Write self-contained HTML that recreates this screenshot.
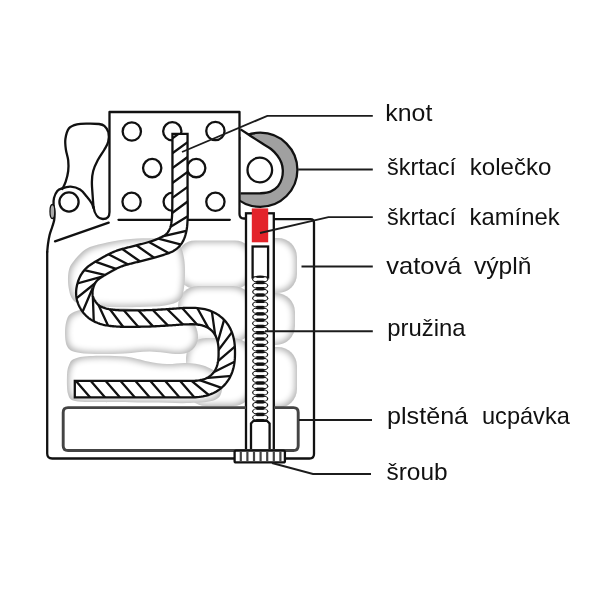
<!DOCTYPE html>
<html><head><meta charset="utf-8"><style>
html,body{margin:0;padding:0;background:#fff;}
body{width:600px;height:600px;position:relative;overflow:hidden;}
svg{position:absolute;left:0;top:0;filter:blur(0.35px);}
.l{position:absolute;font-family:"Liberation Sans",sans-serif;font-size:24px;line-height:1.149;color:#111;white-space:nowrap;}
</style></head><body>
<svg width="600" height="600" viewBox="0 0 600 600">
<defs>
<filter id="b1" x="-20%" y="-20%" width="140%" height="140%"><feGaussianBlur stdDeviation="0.7"/></filter>
<filter id="b2" x="-20%" y="-20%" width="140%" height="140%"><feGaussianBlur stdDeviation="2.6"/></filter>
<filter id="pillow" x="-10%" y="-10%" width="120%" height="120%" color-interpolation-filters="sRGB">
 <feMorphology in="SourceAlpha" operator="erode" radius="2.2" result="er"/>
 <feGaussianBlur in="er" stdDeviation="3.3" result="erb"/>
 <feFlood flood-color="#b3b3b3" result="gray"/>
 <feComposite in="gray" in2="SourceAlpha" operator="in" result="gs"/>
 <feFlood flood-color="#ffffff" result="white"/>
 <feComposite in="white" in2="erb" operator="in" result="wi"/>
 <feMerge><feMergeNode in="gs"/><feMergeNode in="wi"/></feMerge>
</filter>
<clipPath id="wclip"><path d="M172.45,133.80 L172.45,136.08 L172.45,138.37 L172.45,140.65 L172.45,142.93 L172.45,145.21 L172.45,147.50 L172.45,149.78 L172.45,152.06 L172.45,154.34 L172.45,156.63 L172.45,158.91 L172.45,161.19 L172.45,163.48 L172.45,165.76 L172.45,168.04 L172.45,170.32 L172.45,172.61 L172.45,174.89 L172.45,177.17 L172.45,179.46 L172.45,181.74 L172.45,184.02 L172.45,186.30 L172.45,188.59 L172.43,190.87 L172.41,193.15 L172.38,195.43 L172.36,197.72 L172.34,200.00 L172.33,200.51 L172.33,201.13 L172.33,201.86 L172.32,202.67 L172.32,203.54 L172.31,204.46 L172.31,205.41 L172.30,206.37 L172.29,207.32 L172.27,208.23 L172.26,209.09 L172.24,209.90 L172.22,210.68 L172.20,211.46 L172.18,212.22 L172.17,212.96 L172.15,213.67 L172.13,214.37 L172.10,215.06 L172.07,215.73 L172.03,216.38 L171.99,217.03 L171.94,217.67 L171.88,218.33 L171.80,219.06 L171.73,219.80 L171.66,220.52 L171.58,221.22 L171.50,221.90 L171.41,222.56 L171.32,223.19 L171.22,223.80 L171.11,224.37 L170.99,224.91 L170.87,225.41 L170.74,225.91 L170.58,226.44 L170.40,227.00 L170.21,227.55 L170.01,228.09 L169.80,228.62 L169.59,229.12 L169.37,229.61 L169.15,230.08 L168.92,230.52 L168.70,230.93 L168.47,231.30 L168.24,231.66 L168.00,232.02 L167.74,232.37 L167.49,232.69 L167.24,232.99 L166.98,233.29 L166.71,233.57 L166.43,233.85 L166.13,234.12 L165.81,234.40 L165.47,234.68 L165.10,234.97 L164.72,235.25 L164.34,235.51 L163.93,235.77 L163.46,236.04 L162.93,236.33 L162.37,236.63 L161.76,236.94 L161.13,237.25 L160.47,237.56 L159.78,237.87 L159.08,238.18 L158.37,238.49 L157.68,238.80 L157.04,239.08 L156.41,239.35 L155.79,239.60 L155.16,239.85 L154.52,240.09 L153.87,240.33 L153.20,240.57 L152.52,240.80 L151.81,241.04 L151.07,241.28 L150.31,241.53 L149.53,241.78 L148.75,242.02 L147.95,242.27 L147.12,242.51 L146.26,242.75 L145.37,243.00 L144.47,243.25 L143.56,243.49 L142.64,243.74 L141.71,243.99 L140.77,244.23 L139.84,244.48 L138.92,244.72 L138.03,244.95 L137.13,245.18 L136.22,245.41 L135.30,245.64 L134.37,245.86 L133.43,246.09 L132.50,246.32 L131.56,246.55 L130.64,246.78 L129.72,247.01 L128.81,247.24 L127.94,247.46 L127.12,247.68 L126.33,247.88 L125.54,248.08 L124.76,248.28 L123.98,248.49 L123.20,248.69 L122.41,248.91 L121.61,249.13 L120.81,249.36 L120.00,249.61 L119.18,249.86 L118.36,250.14 L117.57,250.41 L116.80,250.69 L116.04,250.97 L115.28,251.26 L114.54,251.55 L113.80,251.86 L113.07,252.16 L112.34,252.48 L111.61,252.80 L110.89,253.13 L110.17,253.47 L109.43,253.82 L108.66,254.19 L107.90,254.59 L107.14,254.98 L106.40,255.38 L105.67,255.78 L104.95,256.18 L104.25,256.58 L103.56,256.98 L102.88,257.36 L102.22,257.74 L101.58,258.11 L100.95,258.47 L100.33,258.82 L99.70,259.17 L99.06,259.53 L98.41,259.89 L97.75,260.27 L97.08,260.65 L96.41,261.04 L95.72,261.44 L95.03,261.85 L94.33,262.28 L93.63,262.73 L92.97,263.16 L92.39,263.55 L91.83,263.92 L91.23,264.31 L90.61,264.73 L89.95,265.18 L89.27,265.66 L88.57,266.18 L87.84,266.74 L87.10,267.36 L86.35,268.03 L85.61,268.76 L84.90,269.52 L84.27,270.25 L83.68,270.97 L83.10,271.71 L82.54,272.48 L81.99,273.28 L81.47,274.10 L80.95,274.95 L80.46,275.82 L80.00,276.72 L79.55,277.64 L79.13,278.59 L78.75,279.55 L78.40,280.51 L78.07,281.47 L77.75,282.47 L77.46,283.49 L77.18,284.53 L76.93,285.60 L76.71,286.69 L76.51,287.81 L76.34,288.94 L76.22,290.09 L76.13,291.26 L76.10,292.43 L76.11,293.53 L76.16,294.61 L76.24,295.70 L76.36,296.79 L76.53,297.88 L76.73,298.97 L76.97,300.06 L77.26,301.15 L77.59,302.24 L77.97,303.32 L78.39,304.39 L78.86,305.45 L79.36,306.48 L79.90,307.50 L80.48,308.51 L81.09,309.51 L81.75,310.51 L82.44,311.49 L83.17,312.46 L83.94,313.42 L84.75,314.35 L85.60,315.26 L86.49,316.15 L87.43,317.00 L88.39,317.79 L89.37,318.54 L90.37,319.23 L91.38,319.89 L92.41,320.50 L93.46,321.07 L94.51,321.60 L95.58,322.10 L96.65,322.56 L97.73,323.00 L98.81,323.40 L99.93,323.79 L101.10,324.16 L102.31,324.49 L103.50,324.79 L104.70,325.05 L105.90,325.28 L107.09,325.49 L108.29,325.68 L109.48,325.84 L110.67,325.99 L111.85,326.12 L113.04,326.25 L114.25,326.37 L115.51,326.47 L116.79,326.56 L118.06,326.63 L119.33,326.69 L120.60,326.73 L121.88,326.75 L123.17,326.77 L124.48,326.78 L125.81,326.79 L127.17,326.79 L128.55,326.80 L129.99,326.80 L131.49,326.80 L133.07,326.80 L134.69,326.79 L136.36,326.78 L138.07,326.76 L139.80,326.74 L141.55,326.72 L143.31,326.68 L145.07,326.65 L146.83,326.60 L148.57,326.55 L150.29,326.49 L152.03,326.43 L153.80,326.35 L155.59,326.27 L157.40,326.17 L159.20,326.08 L160.98,325.97 L162.73,325.87 L164.43,325.77 L166.07,325.66 L167.65,325.56 L169.13,325.47 L170.52,325.38 L171.84,325.30 L173.10,325.21 L174.27,325.12 L175.38,325.04 L176.43,324.95 L177.41,324.87 L178.34,324.79 L179.23,324.72 L180.08,324.65 L180.90,324.59 L181.69,324.53 L182.46,324.49 L183.25,324.45 L184.03,324.41 L184.82,324.38 L185.60,324.36 L186.35,324.33 L187.09,324.32 L187.78,324.30 L188.44,324.29 L189.04,324.28 L189.60,324.27 L190.10,324.26 L190.26,324.25 L192.72,324.27 L194.46,324.33 L196.01,324.44 L197.42,324.57 L198.73,324.75 L199.96,324.96 L201.13,325.20 L202.24,325.48 L203.29,325.78 L204.29,326.12 L205.25,326.49 L206.16,326.88 L207.03,327.31 L207.86,327.76 L208.66,328.24 L209.41,328.74 L210.14,329.28 L210.83,329.84 L211.49,330.43 L212.12,331.04 L212.73,331.69 L213.30,332.37 L213.85,333.08 L214.37,333.82 L214.86,334.60 L215.32,335.41 L215.76,336.27 L216.17,337.16 L216.55,338.09 L216.90,339.07 L217.22,340.10 L217.51,341.19 L217.77,342.32 L218.00,343.53 L218.19,344.80 L218.35,346.16 L218.47,347.64 L218.55,349.27 L218.59,351.21 L218.59,353.99 L218.55,355.93 L218.47,357.56 L218.35,359.04 L218.19,360.40 L218.00,361.67 L217.77,362.88 L217.51,364.01 L217.22,365.10 L216.90,366.13 L216.55,367.11 L216.17,368.04 L215.76,368.93 L215.32,369.79 L214.86,370.60 L214.37,371.38 L213.85,372.12 L213.30,372.83 L212.73,373.51 L212.12,374.16 L211.49,374.77 L210.83,375.36 L210.14,375.92 L209.41,376.46 L208.66,376.96 L207.86,377.44 L207.03,377.89 L206.16,378.32 L205.25,378.71 L204.29,379.08 L203.29,379.42 L202.24,379.72 L201.13,380.00 L199.96,380.24 L198.73,380.45 L197.42,380.63 L196.01,380.76 L194.46,380.87 L192.72,380.93 L190.26,380.95 L187.94,380.95 L185.59,380.95 L183.23,380.95 L180.87,380.95 L178.51,380.95 L176.16,380.95 L173.80,380.95 L171.44,380.95 L169.09,380.95 L166.73,380.95 L164.37,380.95 L162.01,380.95 L159.66,380.95 L157.30,380.95 L154.94,380.95 L152.59,380.95 L150.23,380.95 L147.87,380.95 L145.51,380.95 L143.16,380.95 L140.80,380.95 L138.44,380.95 L136.09,380.95 L133.73,380.95 L131.37,380.95 L129.01,380.95 L126.66,380.95 L124.30,380.95 L121.94,380.95 L119.59,380.95 L117.23,380.95 L114.87,380.95 L112.51,380.95 L110.16,380.95 L107.80,380.95 L105.44,380.95 L103.09,380.95 L100.73,380.95 L98.37,380.95 L96.01,380.95 L93.66,380.95 L91.30,380.95 L88.94,380.95 L86.59,380.95 L84.23,380.95 L81.87,380.95 L79.51,380.95 L77.16,380.95 L74.80,380.95 L74.80,397.35 L77.16,397.35 L79.51,397.35 L81.87,397.35 L84.23,397.35 L86.59,397.35 L88.94,397.35 L91.30,397.35 L93.66,397.35 L96.01,397.35 L98.37,397.35 L100.73,397.35 L103.09,397.35 L105.44,397.35 L107.80,397.35 L110.16,397.35 L112.51,397.35 L114.87,397.35 L117.23,397.35 L119.59,397.35 L121.94,397.35 L124.30,397.35 L126.66,397.35 L129.01,397.35 L131.37,397.35 L133.73,397.35 L136.09,397.35 L138.44,397.35 L140.80,397.35 L143.16,397.35 L145.51,397.35 L147.87,397.35 L150.23,397.35 L152.59,397.35 L154.94,397.35 L157.30,397.35 L159.66,397.35 L162.01,397.35 L164.37,397.35 L166.73,397.35 L169.09,397.35 L171.44,397.35 L173.80,397.35 L176.16,397.35 L178.51,397.35 L180.87,397.35 L183.23,397.35 L185.59,397.35 L187.94,397.35 L190.34,397.35 L193.06,397.32 L195.29,397.24 L197.34,397.11 L199.29,396.92 L201.18,396.67 L203.00,396.36 L204.78,395.99 L206.51,395.56 L208.20,395.06 L209.84,394.51 L211.45,393.89 L213.01,393.22 L214.53,392.48 L216.01,391.68 L217.44,390.81 L218.82,389.89 L220.16,388.91 L221.45,387.86 L222.68,386.76 L223.86,385.61 L224.99,384.40 L226.06,383.14 L227.07,381.82 L228.02,380.46 L228.91,379.05 L229.74,377.59 L230.51,376.09 L231.22,374.55 L231.87,372.97 L232.45,371.34 L232.97,369.67 L233.43,367.96 L233.83,366.21 L234.17,364.41 L234.45,362.55 L234.67,360.63 L234.83,358.63 L234.94,356.51 L234.99,354.15 L234.99,351.05 L234.94,348.69 L234.83,346.57 L234.67,344.57 L234.45,342.65 L234.17,340.79 L233.83,338.99 L233.43,337.24 L232.97,335.53 L232.45,333.86 L231.87,332.23 L231.22,330.65 L230.51,329.11 L229.74,327.61 L228.91,326.15 L228.02,324.74 L227.07,323.38 L226.06,322.06 L224.99,320.80 L223.86,319.59 L222.68,318.44 L221.45,317.34 L220.16,316.29 L218.82,315.31 L217.44,314.39 L216.01,313.52 L214.53,312.72 L213.01,311.98 L211.45,311.31 L209.84,310.69 L208.20,310.14 L206.51,309.64 L204.78,309.21 L203.00,308.84 L201.18,308.53 L199.29,308.28 L197.34,308.09 L195.29,307.96 L193.06,307.88 L190.34,307.85 L189.72,307.86 L189.28,307.87 L188.75,307.88 L188.13,307.89 L187.45,307.91 L186.71,307.92 L185.93,307.94 L185.10,307.96 L184.24,307.99 L183.35,308.02 L182.45,308.07 L181.54,308.11 L180.62,308.17 L179.72,308.23 L178.81,308.30 L177.91,308.37 L176.99,308.45 L176.05,308.53 L175.08,308.61 L174.08,308.69 L173.02,308.77 L171.92,308.85 L170.74,308.93 L169.48,309.02 L168.10,309.10 L166.61,309.20 L165.05,309.30 L163.42,309.40 L161.74,309.50 L160.02,309.60 L158.28,309.70 L156.53,309.80 L154.78,309.89 L153.05,309.97 L151.36,310.04 L149.71,310.11 L148.07,310.16 L146.39,310.21 L144.69,310.25 L142.98,310.29 L141.27,310.32 L139.57,310.34 L137.89,310.37 L136.23,310.38 L134.60,310.39 L133.02,310.40 L131.49,310.40 L130.01,310.40 L128.58,310.40 L127.20,310.39 L125.87,310.39 L124.59,310.39 L123.36,310.37 L122.18,310.36 L121.04,310.33 L119.93,310.30 L118.86,310.25 L117.81,310.19 L116.78,310.12 L115.75,310.03 L114.68,309.93 L113.63,309.82 L112.60,309.70 L111.61,309.58 L110.66,309.45 L109.74,309.31 L108.87,309.16 L108.03,308.99 L107.23,308.82 L106.48,308.63 L105.77,308.43 L105.07,308.21 L104.35,307.96 L103.64,307.70 L102.96,307.43 L102.30,307.14 L101.68,306.85 L101.09,306.56 L100.53,306.25 L100.00,305.93 L99.50,305.61 L99.03,305.28 L98.58,304.94 L98.17,304.60 L97.77,304.24 L97.36,303.84 L96.94,303.39 L96.52,302.90 L96.11,302.39 L95.70,301.84 L95.31,301.29 L94.94,300.72 L94.59,300.16 L94.27,299.60 L93.99,299.06 L93.74,298.55 L93.53,298.08 L93.35,297.61 L93.18,297.13 L93.03,296.66 L92.91,296.17 L92.80,295.68 L92.70,295.18 L92.63,294.67 L92.57,294.15 L92.53,293.63 L92.51,293.09 L92.50,292.57 L92.51,292.09 L92.55,291.58 L92.61,291.02 L92.70,290.42 L92.81,289.79 L92.94,289.15 L93.10,288.50 L93.27,287.85 L93.45,287.21 L93.65,286.58 L93.85,285.99 L94.05,285.45 L94.25,284.96 L94.45,284.51 L94.66,284.06 L94.89,283.62 L95.13,283.19 L95.38,282.77 L95.65,282.36 L95.93,281.96 L96.21,281.57 L96.51,281.18 L96.82,280.81 L97.10,280.48 L97.34,280.22 L97.57,280.00 L97.83,279.76 L98.14,279.51 L98.48,279.24 L98.87,278.96 L99.30,278.65 L99.77,278.33 L100.29,277.99 L100.84,277.62 L101.44,277.23 L102.03,276.84 L102.54,276.50 L103.04,276.18 L103.56,275.86 L104.09,275.54 L104.65,275.21 L105.23,274.88 L105.83,274.54 L106.44,274.20 L107.07,273.84 L107.72,273.48 L108.38,273.11 L109.05,272.73 L109.72,272.35 L110.39,271.96 L111.05,271.58 L111.70,271.21 L112.35,270.84 L112.99,270.48 L113.62,270.13 L114.23,269.79 L114.84,269.46 L115.43,269.15 L116.00,268.86 L116.57,268.58 L117.16,268.30 L117.75,268.02 L118.34,267.76 L118.92,267.50 L119.50,267.25 L120.08,267.01 L120.65,266.77 L121.24,266.54 L121.82,266.32 L122.42,266.09 L123.03,265.88 L123.64,265.66 L124.24,265.46 L124.84,265.27 L125.46,265.09 L126.09,264.90 L126.75,264.72 L127.43,264.54 L128.13,264.35 L128.87,264.16 L129.63,263.97 L130.42,263.76 L131.23,263.55 L132.06,263.34 L132.88,263.12 L133.72,262.91 L134.58,262.70 L135.47,262.48 L136.39,262.25 L137.32,262.03 L138.27,261.80 L139.22,261.56 L140.19,261.32 L141.15,261.08 L142.12,260.83 L143.08,260.59 L144.01,260.34 L144.94,260.10 L145.89,259.85 L146.85,259.60 L147.81,259.35 L148.78,259.10 L149.75,258.84 L150.72,258.58 L151.68,258.32 L152.64,258.06 L153.58,257.80 L154.50,257.54 L155.38,257.29 L156.23,257.05 L157.07,256.81 L157.90,256.57 L158.73,256.34 L159.57,256.10 L160.40,255.85 L161.24,255.60 L162.08,255.35 L162.93,255.08 L163.79,254.81 L164.64,254.53 L165.46,254.26 L166.28,253.98 L167.13,253.69 L168.00,253.38 L168.89,253.05 L169.80,252.69 L170.71,252.31 L171.63,251.89 L172.56,251.43 L173.49,250.92 L174.42,250.36 L175.32,249.77 L176.13,249.17 L176.90,248.57 L177.64,247.94 L178.36,247.28 L179.04,246.59 L179.70,245.88 L180.33,245.14 L180.93,244.37 L181.49,243.59 L182.02,242.79 L182.51,241.97 L182.99,241.13 L183.45,240.23 L183.87,239.32 L184.26,238.40 L184.61,237.48 L184.93,236.57 L185.23,235.65 L185.50,234.74 L185.74,233.83 L185.97,232.92 L186.17,232.03 L186.37,231.14 L186.55,230.22 L186.73,229.26 L186.88,228.28 L187.01,227.33 L187.12,226.40 L187.20,225.48 L187.28,224.59 L187.34,223.72 L187.40,222.87 L187.45,222.04 L187.50,221.24 L187.54,220.46 L187.59,219.67 L187.63,218.84 L187.67,218.00 L187.71,217.17 L187.73,216.35 L187.74,215.55 L187.75,214.75 L187.76,213.97 L187.76,213.19 L187.76,212.42 L187.76,211.65 L187.76,210.89 L187.76,210.10 L187.77,209.25 L187.76,208.32 L187.76,207.36 L187.75,206.37 L187.74,205.38 L187.73,204.41 L187.71,203.48 L187.70,202.59 L187.69,201.78 L187.68,201.06 L187.67,200.46 L187.66,200.00 L187.64,197.72 L187.62,195.43 L187.59,193.15 L187.57,190.87 L187.55,188.59 L187.55,186.30 L187.55,184.02 L187.55,181.74 L187.55,179.46 L187.55,177.17 L187.55,174.89 L187.55,172.61 L187.55,170.32 L187.55,168.04 L187.55,165.76 L187.55,163.48 L187.55,161.19 L187.55,158.91 L187.55,156.63 L187.55,154.34 L187.55,152.06 L187.55,149.78 L187.55,147.50 L187.55,145.21 L187.55,142.93 L187.55,140.65 L187.55,138.37 L187.55,136.08 L187.55,133.80 Z"/></clipPath>

</defs>
<rect width="600" height="600" fill="#fff"/>
<g fill="#000" filter="url(#b1)"><path d="M195,240.5 H235 A18,18 0 0 1 253,258.5 V270.5 A18,18 0 0 1 235,288.5 H195 A18,18 0 0 1 177,270.5 V258.5 A18,18 0 0 1 195,240.5 Z" filter="url(#pillow)"/><path d="M198,286 H233 A20,20 0 0 1 253,306 V322 A20,20 0 0 1 233,342 H198 A20,20 0 0 1 178,322 V306 A20,20 0 0 1 198,286 Z" filter="url(#pillow)"/><path d="M206,338 H233 A20,20 0 0 1 253,358 V386 A20,20 0 0 1 233,406 H206 A20,20 0 0 1 186,386 V358 A20,20 0 0 1 206,338 Z" filter="url(#pillow)"/><path d="M274,238 H278 A19,19 0 0 1 297,257 V274 A19,19 0 0 1 278,293 H274 A19,19 0 0 1 255,274 V257 A19,19 0 0 1 274,238 Z" filter="url(#pillow)"/><path d="M274,293 H276 A19,19 0 0 1 295,312 V326 A19,19 0 0 1 276,345 H274 A19,19 0 0 1 255,326 V312 A19,19 0 0 1 274,293 Z" filter="url(#pillow)"/><path d="M274,347 H278 A19,19 0 0 1 297,366 V389 A19,19 0 0 1 278,408 H274 A19,19 0 0 1 255,389 V366 A19,19 0 0 1 274,347 Z" filter="url(#pillow)"/><path d="M73.00,262.00 C75.92,258.17 81.00,252.08 86.00,249.00 C91.00,245.92 96.50,245.08 103.00,243.50 C109.50,241.92 117.17,240.38 125.00,239.50 C132.83,238.62 142.50,238.12 150.00,238.20 C157.50,238.28 165.00,238.70 170.00,240.00 C175.00,241.30 177.67,243.00 180.00,246.00 C182.33,249.00 183.17,253.67 184.00,258.00 C184.83,262.33 185.00,267.00 185.00,272.00 C185.00,277.00 184.83,283.33 184.00,288.00 C183.17,292.67 183.17,297.08 180.00,300.00 C176.83,302.92 171.67,304.33 165.00,305.50 C158.33,306.67 149.17,306.75 140.00,307.00 C130.83,307.25 119.17,307.33 110.00,307.00 C100.83,306.67 91.17,306.17 85.00,305.00 C78.83,303.83 75.75,303.00 73.00,300.00 C70.25,297.00 69.25,291.67 68.50,287.00 C67.75,282.33 67.75,276.17 68.50,272.00 C69.25,267.83 70.08,265.83 73.00,262.00Z" filter="url(#pillow)"/><path d="M72.00,313.00 C75.00,311.33 78.67,309.83 85.00,309.00 C91.33,308.17 100.83,308.00 110.00,308.00 C119.17,308.00 130.00,308.50 140.00,309.00 C150.00,309.50 162.50,309.83 170.00,311.00 C177.50,312.17 180.83,313.67 185.00,316.00 C189.17,318.33 192.83,321.33 195.00,325.00 C197.17,328.67 198.33,334.00 198.00,338.00 C197.67,342.00 196.00,346.33 193.00,349.00 C190.00,351.67 187.17,353.58 180.00,354.00 C172.83,354.42 159.17,351.58 150.00,351.50 C140.83,351.42 134.17,353.08 125.00,353.50 C115.83,353.92 103.33,354.25 95.00,354.00 C86.67,353.75 79.67,353.33 75.00,352.00 C70.33,350.67 68.67,349.33 67.00,346.00 C65.33,342.67 65.00,336.50 65.00,332.00 C65.00,327.50 65.83,322.17 67.00,319.00 C68.17,315.83 69.00,314.67 72.00,313.00Z" filter="url(#pillow)"/><path d="M74.00,359.00 C77.50,357.50 81.50,356.42 90.00,356.00 C98.50,355.58 115.33,355.58 125.00,356.50 C134.67,357.42 141.00,360.25 148.00,361.50 C155.00,362.75 160.67,363.75 167.00,364.00 C173.33,364.25 179.67,362.67 186.00,363.00 C192.33,363.33 199.33,363.83 205.00,366.00 C210.67,368.17 217.17,372.00 220.00,376.00 C222.83,380.00 222.83,386.00 222.00,390.00 C221.17,394.00 220.33,397.83 215.00,400.00 C209.67,402.17 200.83,402.58 190.00,403.00 C179.17,403.42 165.00,402.67 150.00,402.50 C135.00,402.33 112.50,402.25 100.00,402.00 C87.50,401.75 80.33,402.33 75.00,401.00 C69.67,399.67 69.33,398.33 68.00,394.00 C66.67,389.67 66.83,379.83 67.00,375.00 C67.17,370.17 67.83,367.67 69.00,365.00 C70.17,362.33 70.50,360.50 74.00,359.00Z" filter="url(#pillow)"/></g>
<g stroke="#111" stroke-width="2.3" stroke-linejoin="round">
<circle cx="260.3" cy="169.8" r="37.1" fill="#a0a0a0"/>
<path d="M240.60,129.40 C242.33,130.53 247.43,133.88 251.00,136.20 C254.57,138.52 258.67,141.17 262.00,143.30 C265.33,145.43 268.45,146.97 271.00,149.00 C273.55,151.03 275.58,153.25 277.30,155.50 C279.02,157.75 280.38,160.08 281.30,162.50 C282.22,164.92 282.70,167.37 282.80,170.00 C282.90,172.63 282.70,175.58 281.90,178.30 C281.10,181.02 279.90,184.08 278.00,186.30 C276.10,188.52 273.50,190.43 270.50,191.60 C267.50,192.77 263.42,193.02 260.00,193.30 C256.58,193.58 253.23,193.30 250.00,193.30 C246.77,193.30 242.17,193.30 240.60,193.30" fill="#fff"/>
<circle cx="259.8" cy="170" r="12.3" fill="#fff"/>
</g>
<rect x="109.5" y="112" width="130" height="107" fill="#fff"/>
<g fill="none" stroke="#111" stroke-width="2.3" stroke-linecap="round" stroke-linejoin="round">
<path d="M47.2,252 L47.2,453.5 Q47.2,458.5 52.2,458.5 L309.5,458.5 Q314,458.5 314,454 L314,222.7 Q314,219.2 310.5,219.2 L274,219.2"/>
<path d="M93.50,208.00 C93.17,207.17 92.63,204.92 91.50,203.00 C90.37,201.08 88.62,198.73 86.70,196.50 C84.78,194.27 82.67,191.23 80.00,189.60 C77.33,187.97 73.70,186.92 70.70,186.70 C67.70,186.48 64.23,187.58 62.00,188.30 C59.77,189.02 58.63,189.38 57.30,191.00 C55.97,192.62 54.62,195.67 54.00,198.00 C53.38,200.33 53.52,202.50 53.60,205.00 C53.68,207.50 54.40,210.50 54.50,213.00 C54.60,215.50 54.58,217.67 54.20,220.00 C53.82,222.33 52.97,224.50 52.20,227.00 C51.43,229.50 50.30,232.17 49.60,235.00 C48.90,237.83 48.40,241.17 48.00,244.00 C47.60,246.83 47.33,250.67 47.20,252.00"/>
<path d="M93.50,207.00 C93.35,205.00 92.87,199.22 92.60,195.00 C92.33,190.78 91.80,185.70 91.90,181.70 C92.00,177.70 92.23,174.57 93.20,171.00 C94.17,167.43 95.85,163.85 97.70,160.30 C99.55,156.75 102.55,152.80 104.30,149.70 C106.05,146.60 107.52,144.60 108.20,141.70 C108.88,138.80 109.05,134.93 108.40,132.30 C107.75,129.67 105.87,127.28 104.30,125.90 C102.73,124.52 101.72,124.38 99.00,124.00 C96.28,123.62 91.67,123.55 88.00,123.60 C84.33,123.65 80.17,123.52 77.00,124.30 C73.83,125.08 70.93,125.85 69.00,128.30 C67.07,130.75 65.92,135.43 65.40,139.00 C64.88,142.57 65.43,146.15 65.90,149.70 C66.37,153.25 67.82,156.75 68.20,160.30 C68.58,163.85 68.62,167.43 68.20,171.00 C67.78,174.57 66.68,178.70 65.70,181.70 C64.72,184.70 62.87,187.78 62.30,189.00"/>
<path d="M93.5,207 C94.5,214 98,219 103,219 C107.5,219 109.5,216 109.5,212 L109.5,112 L239.5,112 L239.5,214 Q239.5,218.5 244,218.5 L246,218.5"/>
<line x1="55" y1="241.3" x2="108.7" y2="222.7"/>
<line x1="118.5" y1="219.8" x2="229.8" y2="219.8"/>
<g fill="#fff"><circle cx="131.8" cy="131.5" r="9.15"/><circle cx="172.3" cy="131.3" r="9.15"/><circle cx="215.4" cy="131" r="9.15"/><circle cx="152.2" cy="168.1" r="9.15"/><circle cx="196.2" cy="168.1" r="9.15"/><circle cx="131.6" cy="201.8" r="9.15"/><circle cx="172.7" cy="201.8" r="9.15"/><circle cx="215.4" cy="201.8" r="9.15"/></g>
<circle cx="69" cy="202" r="9.6" fill="#fff"/>
<ellipse cx="52.4" cy="211.5" rx="2.4" ry="7" fill="#aaa" stroke-width="1.3"/>
</g>

<path d="M172.45,133.80 L172.45,136.08 L172.45,138.37 L172.45,140.65 L172.45,142.93 L172.45,145.21 L172.45,147.50 L172.45,149.78 L172.45,152.06 L172.45,154.34 L172.45,156.63 L172.45,158.91 L172.45,161.19 L172.45,163.48 L172.45,165.76 L172.45,168.04 L172.45,170.32 L172.45,172.61 L172.45,174.89 L172.45,177.17 L172.45,179.46 L172.45,181.74 L172.45,184.02 L172.45,186.30 L172.45,188.59 L172.43,190.87 L172.41,193.15 L172.38,195.43 L172.36,197.72 L172.34,200.00 L172.33,200.51 L172.33,201.13 L172.33,201.86 L172.32,202.67 L172.32,203.54 L172.31,204.46 L172.31,205.41 L172.30,206.37 L172.29,207.32 L172.27,208.23 L172.26,209.09 L172.24,209.90 L172.22,210.68 L172.20,211.46 L172.18,212.22 L172.17,212.96 L172.15,213.67 L172.13,214.37 L172.10,215.06 L172.07,215.73 L172.03,216.38 L171.99,217.03 L171.94,217.67 L171.88,218.33 L171.80,219.06 L171.73,219.80 L171.66,220.52 L171.58,221.22 L171.50,221.90 L171.41,222.56 L171.32,223.19 L171.22,223.80 L171.11,224.37 L170.99,224.91 L170.87,225.41 L170.74,225.91 L170.58,226.44 L170.40,227.00 L170.21,227.55 L170.01,228.09 L169.80,228.62 L169.59,229.12 L169.37,229.61 L169.15,230.08 L168.92,230.52 L168.70,230.93 L168.47,231.30 L168.24,231.66 L168.00,232.02 L167.74,232.37 L167.49,232.69 L167.24,232.99 L166.98,233.29 L166.71,233.57 L166.43,233.85 L166.13,234.12 L165.81,234.40 L165.47,234.68 L165.10,234.97 L164.72,235.25 L164.34,235.51 L163.93,235.77 L163.46,236.04 L162.93,236.33 L162.37,236.63 L161.76,236.94 L161.13,237.25 L160.47,237.56 L159.78,237.87 L159.08,238.18 L158.37,238.49 L157.68,238.80 L157.04,239.08 L156.41,239.35 L155.79,239.60 L155.16,239.85 L154.52,240.09 L153.87,240.33 L153.20,240.57 L152.52,240.80 L151.81,241.04 L151.07,241.28 L150.31,241.53 L149.53,241.78 L148.75,242.02 L147.95,242.27 L147.12,242.51 L146.26,242.75 L145.37,243.00 L144.47,243.25 L143.56,243.49 L142.64,243.74 L141.71,243.99 L140.77,244.23 L139.84,244.48 L138.92,244.72 L138.03,244.95 L137.13,245.18 L136.22,245.41 L135.30,245.64 L134.37,245.86 L133.43,246.09 L132.50,246.32 L131.56,246.55 L130.64,246.78 L129.72,247.01 L128.81,247.24 L127.94,247.46 L127.12,247.68 L126.33,247.88 L125.54,248.08 L124.76,248.28 L123.98,248.49 L123.20,248.69 L122.41,248.91 L121.61,249.13 L120.81,249.36 L120.00,249.61 L119.18,249.86 L118.36,250.14 L117.57,250.41 L116.80,250.69 L116.04,250.97 L115.28,251.26 L114.54,251.55 L113.80,251.86 L113.07,252.16 L112.34,252.48 L111.61,252.80 L110.89,253.13 L110.17,253.47 L109.43,253.82 L108.66,254.19 L107.90,254.59 L107.14,254.98 L106.40,255.38 L105.67,255.78 L104.95,256.18 L104.25,256.58 L103.56,256.98 L102.88,257.36 L102.22,257.74 L101.58,258.11 L100.95,258.47 L100.33,258.82 L99.70,259.17 L99.06,259.53 L98.41,259.89 L97.75,260.27 L97.08,260.65 L96.41,261.04 L95.72,261.44 L95.03,261.85 L94.33,262.28 L93.63,262.73 L92.97,263.16 L92.39,263.55 L91.83,263.92 L91.23,264.31 L90.61,264.73 L89.95,265.18 L89.27,265.66 L88.57,266.18 L87.84,266.74 L87.10,267.36 L86.35,268.03 L85.61,268.76 L84.90,269.52 L84.27,270.25 L83.68,270.97 L83.10,271.71 L82.54,272.48 L81.99,273.28 L81.47,274.10 L80.95,274.95 L80.46,275.82 L80.00,276.72 L79.55,277.64 L79.13,278.59 L78.75,279.55 L78.40,280.51 L78.07,281.47 L77.75,282.47 L77.46,283.49 L77.18,284.53 L76.93,285.60 L76.71,286.69 L76.51,287.81 L76.34,288.94 L76.22,290.09 L76.13,291.26 L76.10,292.43 L76.11,293.53 L76.16,294.61 L76.24,295.70 L76.36,296.79 L76.53,297.88 L76.73,298.97 L76.97,300.06 L77.26,301.15 L77.59,302.24 L77.97,303.32 L78.39,304.39 L78.86,305.45 L79.36,306.48 L79.90,307.50 L80.48,308.51 L81.09,309.51 L81.75,310.51 L82.44,311.49 L83.17,312.46 L83.94,313.42 L84.75,314.35 L85.60,315.26 L86.49,316.15 L87.43,317.00 L88.39,317.79 L89.37,318.54 L90.37,319.23 L91.38,319.89 L92.41,320.50 L93.46,321.07 L94.51,321.60 L95.58,322.10 L96.65,322.56 L97.73,323.00 L98.81,323.40 L99.93,323.79 L101.10,324.16 L102.31,324.49 L103.50,324.79 L104.70,325.05 L105.90,325.28 L107.09,325.49 L108.29,325.68 L109.48,325.84 L110.67,325.99 L111.85,326.12 L113.04,326.25 L114.25,326.37 L115.51,326.47 L116.79,326.56 L118.06,326.63 L119.33,326.69 L120.60,326.73 L121.88,326.75 L123.17,326.77 L124.48,326.78 L125.81,326.79 L127.17,326.79 L128.55,326.80 L129.99,326.80 L131.49,326.80 L133.07,326.80 L134.69,326.79 L136.36,326.78 L138.07,326.76 L139.80,326.74 L141.55,326.72 L143.31,326.68 L145.07,326.65 L146.83,326.60 L148.57,326.55 L150.29,326.49 L152.03,326.43 L153.80,326.35 L155.59,326.27 L157.40,326.17 L159.20,326.08 L160.98,325.97 L162.73,325.87 L164.43,325.77 L166.07,325.66 L167.65,325.56 L169.13,325.47 L170.52,325.38 L171.84,325.30 L173.10,325.21 L174.27,325.12 L175.38,325.04 L176.43,324.95 L177.41,324.87 L178.34,324.79 L179.23,324.72 L180.08,324.65 L180.90,324.59 L181.69,324.53 L182.46,324.49 L183.25,324.45 L184.03,324.41 L184.82,324.38 L185.60,324.36 L186.35,324.33 L187.09,324.32 L187.78,324.30 L188.44,324.29 L189.04,324.28 L189.60,324.27 L190.10,324.26 L190.26,324.25 L192.72,324.27 L194.46,324.33 L196.01,324.44 L197.42,324.57 L198.73,324.75 L199.96,324.96 L201.13,325.20 L202.24,325.48 L203.29,325.78 L204.29,326.12 L205.25,326.49 L206.16,326.88 L207.03,327.31 L207.86,327.76 L208.66,328.24 L209.41,328.74 L210.14,329.28 L210.83,329.84 L211.49,330.43 L212.12,331.04 L212.73,331.69 L213.30,332.37 L213.85,333.08 L214.37,333.82 L214.86,334.60 L215.32,335.41 L215.76,336.27 L216.17,337.16 L216.55,338.09 L216.90,339.07 L217.22,340.10 L217.51,341.19 L217.77,342.32 L218.00,343.53 L218.19,344.80 L218.35,346.16 L218.47,347.64 L218.55,349.27 L218.59,351.21 L218.59,353.99 L218.55,355.93 L218.47,357.56 L218.35,359.04 L218.19,360.40 L218.00,361.67 L217.77,362.88 L217.51,364.01 L217.22,365.10 L216.90,366.13 L216.55,367.11 L216.17,368.04 L215.76,368.93 L215.32,369.79 L214.86,370.60 L214.37,371.38 L213.85,372.12 L213.30,372.83 L212.73,373.51 L212.12,374.16 L211.49,374.77 L210.83,375.36 L210.14,375.92 L209.41,376.46 L208.66,376.96 L207.86,377.44 L207.03,377.89 L206.16,378.32 L205.25,378.71 L204.29,379.08 L203.29,379.42 L202.24,379.72 L201.13,380.00 L199.96,380.24 L198.73,380.45 L197.42,380.63 L196.01,380.76 L194.46,380.87 L192.72,380.93 L190.26,380.95 L187.94,380.95 L185.59,380.95 L183.23,380.95 L180.87,380.95 L178.51,380.95 L176.16,380.95 L173.80,380.95 L171.44,380.95 L169.09,380.95 L166.73,380.95 L164.37,380.95 L162.01,380.95 L159.66,380.95 L157.30,380.95 L154.94,380.95 L152.59,380.95 L150.23,380.95 L147.87,380.95 L145.51,380.95 L143.16,380.95 L140.80,380.95 L138.44,380.95 L136.09,380.95 L133.73,380.95 L131.37,380.95 L129.01,380.95 L126.66,380.95 L124.30,380.95 L121.94,380.95 L119.59,380.95 L117.23,380.95 L114.87,380.95 L112.51,380.95 L110.16,380.95 L107.80,380.95 L105.44,380.95 L103.09,380.95 L100.73,380.95 L98.37,380.95 L96.01,380.95 L93.66,380.95 L91.30,380.95 L88.94,380.95 L86.59,380.95 L84.23,380.95 L81.87,380.95 L79.51,380.95 L77.16,380.95 L74.80,380.95 L74.80,397.35 L77.16,397.35 L79.51,397.35 L81.87,397.35 L84.23,397.35 L86.59,397.35 L88.94,397.35 L91.30,397.35 L93.66,397.35 L96.01,397.35 L98.37,397.35 L100.73,397.35 L103.09,397.35 L105.44,397.35 L107.80,397.35 L110.16,397.35 L112.51,397.35 L114.87,397.35 L117.23,397.35 L119.59,397.35 L121.94,397.35 L124.30,397.35 L126.66,397.35 L129.01,397.35 L131.37,397.35 L133.73,397.35 L136.09,397.35 L138.44,397.35 L140.80,397.35 L143.16,397.35 L145.51,397.35 L147.87,397.35 L150.23,397.35 L152.59,397.35 L154.94,397.35 L157.30,397.35 L159.66,397.35 L162.01,397.35 L164.37,397.35 L166.73,397.35 L169.09,397.35 L171.44,397.35 L173.80,397.35 L176.16,397.35 L178.51,397.35 L180.87,397.35 L183.23,397.35 L185.59,397.35 L187.94,397.35 L190.34,397.35 L193.06,397.32 L195.29,397.24 L197.34,397.11 L199.29,396.92 L201.18,396.67 L203.00,396.36 L204.78,395.99 L206.51,395.56 L208.20,395.06 L209.84,394.51 L211.45,393.89 L213.01,393.22 L214.53,392.48 L216.01,391.68 L217.44,390.81 L218.82,389.89 L220.16,388.91 L221.45,387.86 L222.68,386.76 L223.86,385.61 L224.99,384.40 L226.06,383.14 L227.07,381.82 L228.02,380.46 L228.91,379.05 L229.74,377.59 L230.51,376.09 L231.22,374.55 L231.87,372.97 L232.45,371.34 L232.97,369.67 L233.43,367.96 L233.83,366.21 L234.17,364.41 L234.45,362.55 L234.67,360.63 L234.83,358.63 L234.94,356.51 L234.99,354.15 L234.99,351.05 L234.94,348.69 L234.83,346.57 L234.67,344.57 L234.45,342.65 L234.17,340.79 L233.83,338.99 L233.43,337.24 L232.97,335.53 L232.45,333.86 L231.87,332.23 L231.22,330.65 L230.51,329.11 L229.74,327.61 L228.91,326.15 L228.02,324.74 L227.07,323.38 L226.06,322.06 L224.99,320.80 L223.86,319.59 L222.68,318.44 L221.45,317.34 L220.16,316.29 L218.82,315.31 L217.44,314.39 L216.01,313.52 L214.53,312.72 L213.01,311.98 L211.45,311.31 L209.84,310.69 L208.20,310.14 L206.51,309.64 L204.78,309.21 L203.00,308.84 L201.18,308.53 L199.29,308.28 L197.34,308.09 L195.29,307.96 L193.06,307.88 L190.34,307.85 L189.72,307.86 L189.28,307.87 L188.75,307.88 L188.13,307.89 L187.45,307.91 L186.71,307.92 L185.93,307.94 L185.10,307.96 L184.24,307.99 L183.35,308.02 L182.45,308.07 L181.54,308.11 L180.62,308.17 L179.72,308.23 L178.81,308.30 L177.91,308.37 L176.99,308.45 L176.05,308.53 L175.08,308.61 L174.08,308.69 L173.02,308.77 L171.92,308.85 L170.74,308.93 L169.48,309.02 L168.10,309.10 L166.61,309.20 L165.05,309.30 L163.42,309.40 L161.74,309.50 L160.02,309.60 L158.28,309.70 L156.53,309.80 L154.78,309.89 L153.05,309.97 L151.36,310.04 L149.71,310.11 L148.07,310.16 L146.39,310.21 L144.69,310.25 L142.98,310.29 L141.27,310.32 L139.57,310.34 L137.89,310.37 L136.23,310.38 L134.60,310.39 L133.02,310.40 L131.49,310.40 L130.01,310.40 L128.58,310.40 L127.20,310.39 L125.87,310.39 L124.59,310.39 L123.36,310.37 L122.18,310.36 L121.04,310.33 L119.93,310.30 L118.86,310.25 L117.81,310.19 L116.78,310.12 L115.75,310.03 L114.68,309.93 L113.63,309.82 L112.60,309.70 L111.61,309.58 L110.66,309.45 L109.74,309.31 L108.87,309.16 L108.03,308.99 L107.23,308.82 L106.48,308.63 L105.77,308.43 L105.07,308.21 L104.35,307.96 L103.64,307.70 L102.96,307.43 L102.30,307.14 L101.68,306.85 L101.09,306.56 L100.53,306.25 L100.00,305.93 L99.50,305.61 L99.03,305.28 L98.58,304.94 L98.17,304.60 L97.77,304.24 L97.36,303.84 L96.94,303.39 L96.52,302.90 L96.11,302.39 L95.70,301.84 L95.31,301.29 L94.94,300.72 L94.59,300.16 L94.27,299.60 L93.99,299.06 L93.74,298.55 L93.53,298.08 L93.35,297.61 L93.18,297.13 L93.03,296.66 L92.91,296.17 L92.80,295.68 L92.70,295.18 L92.63,294.67 L92.57,294.15 L92.53,293.63 L92.51,293.09 L92.50,292.57 L92.51,292.09 L92.55,291.58 L92.61,291.02 L92.70,290.42 L92.81,289.79 L92.94,289.15 L93.10,288.50 L93.27,287.85 L93.45,287.21 L93.65,286.58 L93.85,285.99 L94.05,285.45 L94.25,284.96 L94.45,284.51 L94.66,284.06 L94.89,283.62 L95.13,283.19 L95.38,282.77 L95.65,282.36 L95.93,281.96 L96.21,281.57 L96.51,281.18 L96.82,280.81 L97.10,280.48 L97.34,280.22 L97.57,280.00 L97.83,279.76 L98.14,279.51 L98.48,279.24 L98.87,278.96 L99.30,278.65 L99.77,278.33 L100.29,277.99 L100.84,277.62 L101.44,277.23 L102.03,276.84 L102.54,276.50 L103.04,276.18 L103.56,275.86 L104.09,275.54 L104.65,275.21 L105.23,274.88 L105.83,274.54 L106.44,274.20 L107.07,273.84 L107.72,273.48 L108.38,273.11 L109.05,272.73 L109.72,272.35 L110.39,271.96 L111.05,271.58 L111.70,271.21 L112.35,270.84 L112.99,270.48 L113.62,270.13 L114.23,269.79 L114.84,269.46 L115.43,269.15 L116.00,268.86 L116.57,268.58 L117.16,268.30 L117.75,268.02 L118.34,267.76 L118.92,267.50 L119.50,267.25 L120.08,267.01 L120.65,266.77 L121.24,266.54 L121.82,266.32 L122.42,266.09 L123.03,265.88 L123.64,265.66 L124.24,265.46 L124.84,265.27 L125.46,265.09 L126.09,264.90 L126.75,264.72 L127.43,264.54 L128.13,264.35 L128.87,264.16 L129.63,263.97 L130.42,263.76 L131.23,263.55 L132.06,263.34 L132.88,263.12 L133.72,262.91 L134.58,262.70 L135.47,262.48 L136.39,262.25 L137.32,262.03 L138.27,261.80 L139.22,261.56 L140.19,261.32 L141.15,261.08 L142.12,260.83 L143.08,260.59 L144.01,260.34 L144.94,260.10 L145.89,259.85 L146.85,259.60 L147.81,259.35 L148.78,259.10 L149.75,258.84 L150.72,258.58 L151.68,258.32 L152.64,258.06 L153.58,257.80 L154.50,257.54 L155.38,257.29 L156.23,257.05 L157.07,256.81 L157.90,256.57 L158.73,256.34 L159.57,256.10 L160.40,255.85 L161.24,255.60 L162.08,255.35 L162.93,255.08 L163.79,254.81 L164.64,254.53 L165.46,254.26 L166.28,253.98 L167.13,253.69 L168.00,253.38 L168.89,253.05 L169.80,252.69 L170.71,252.31 L171.63,251.89 L172.56,251.43 L173.49,250.92 L174.42,250.36 L175.32,249.77 L176.13,249.17 L176.90,248.57 L177.64,247.94 L178.36,247.28 L179.04,246.59 L179.70,245.88 L180.33,245.14 L180.93,244.37 L181.49,243.59 L182.02,242.79 L182.51,241.97 L182.99,241.13 L183.45,240.23 L183.87,239.32 L184.26,238.40 L184.61,237.48 L184.93,236.57 L185.23,235.65 L185.50,234.74 L185.74,233.83 L185.97,232.92 L186.17,232.03 L186.37,231.14 L186.55,230.22 L186.73,229.26 L186.88,228.28 L187.01,227.33 L187.12,226.40 L187.20,225.48 L187.28,224.59 L187.34,223.72 L187.40,222.87 L187.45,222.04 L187.50,221.24 L187.54,220.46 L187.59,219.67 L187.63,218.84 L187.67,218.00 L187.71,217.17 L187.73,216.35 L187.74,215.55 L187.75,214.75 L187.76,213.97 L187.76,213.19 L187.76,212.42 L187.76,211.65 L187.76,210.89 L187.76,210.10 L187.77,209.25 L187.76,208.32 L187.76,207.36 L187.75,206.37 L187.74,205.38 L187.73,204.41 L187.71,203.48 L187.70,202.59 L187.69,201.78 L187.68,201.06 L187.67,200.46 L187.66,200.00 L187.64,197.72 L187.62,195.43 L187.59,193.15 L187.57,190.87 L187.55,188.59 L187.55,186.30 L187.55,184.02 L187.55,181.74 L187.55,179.46 L187.55,177.17 L187.55,174.89 L187.55,172.61 L187.55,170.32 L187.55,168.04 L187.55,165.76 L187.55,163.48 L187.55,161.19 L187.55,158.91 L187.55,156.63 L187.55,154.34 L187.55,152.06 L187.55,149.78 L187.55,147.50 L187.55,145.21 L187.55,142.93 L187.55,140.65 L187.55,138.37 L187.55,136.08 L187.55,133.80 Z" fill="#fff"/>
<g clip-path="url(#wclip)"><path d="M168.95,140.85 L191.05,124.75 M168.95,155.75 L191.05,139.65 M168.95,170.65 L191.05,154.55 M168.95,185.54 L191.05,169.44 M168.91,200.42 L191.09,184.35 M168.77,215.50 L191.27,198.88 M167.33,228.83 L191.65,213.80 M162.38,236.44 L190.73,229.82 M155.50,237.83 L184.11,245.31 M145.45,239.91 L171.62,254.75 M132.74,242.76 L157.73,260.31 M118.34,246.30 L143.76,263.96 M104.11,251.93 L131.58,266.20 M91.02,260.12 L120.23,270.37 M78.81,268.99 L108.98,275.88 M72.22,284.89 L102.06,276.69 M72.24,301.60 L96.39,282.24 M80.45,316.68 L92.58,288.20 M93.96,326.75 L92.82,295.82 M110.29,330.41 L97.23,302.35 M126.07,330.72 L107.48,305.97 M141.23,330.31 L120.98,306.90 M156.21,329.87 L135.36,306.98 M171.19,328.89 L149.61,306.70 M186.12,327.68 L164.04,305.98 M199.74,327.57 L179.03,304.57 M209.80,330.61 L194.80,303.54 M215.41,336.79 L211.13,306.13 M217.06,344.37 L225.60,314.62 M216.43,352.80 L235.08,328.10 M215.04,363.57 L238.55,343.44 M211.54,373.18 L239.25,359.37 M205.07,378.20 L235.92,375.63 M197.39,379.43 L226.63,389.59 M188.79,378.59 L212.69,398.26 M177.14,377.45 L197.40,400.85 M162.24,377.45 L182.50,400.85 M147.35,377.45 L167.61,400.85 M132.45,377.45 L152.71,400.85 M117.56,377.45 L137.82,400.85 M102.66,377.45 L122.92,400.85 M87.77,377.45 L108.03,400.85 M72.87,377.45 L93.13,400.85" stroke="#111" stroke-width="2.3" fill="none"/></g>
<path d="M172.45,133.80 L172.45,136.08 L172.45,138.37 L172.45,140.65 L172.45,142.93 L172.45,145.21 L172.45,147.50 L172.45,149.78 L172.45,152.06 L172.45,154.34 L172.45,156.63 L172.45,158.91 L172.45,161.19 L172.45,163.48 L172.45,165.76 L172.45,168.04 L172.45,170.32 L172.45,172.61 L172.45,174.89 L172.45,177.17 L172.45,179.46 L172.45,181.74 L172.45,184.02 L172.45,186.30 L172.45,188.59 L172.43,190.87 L172.41,193.15 L172.38,195.43 L172.36,197.72 L172.34,200.00 L172.33,200.51 L172.33,201.13 L172.33,201.86 L172.32,202.67 L172.32,203.54 L172.31,204.46 L172.31,205.41 L172.30,206.37 L172.29,207.32 L172.27,208.23 L172.26,209.09 L172.24,209.90 L172.22,210.68 L172.20,211.46 L172.18,212.22 L172.17,212.96 L172.15,213.67 L172.13,214.37 L172.10,215.06 L172.07,215.73 L172.03,216.38 L171.99,217.03 L171.94,217.67 L171.88,218.33 L171.80,219.06 L171.73,219.80 L171.66,220.52 L171.58,221.22 L171.50,221.90 L171.41,222.56 L171.32,223.19 L171.22,223.80 L171.11,224.37 L170.99,224.91 L170.87,225.41 L170.74,225.91 L170.58,226.44 L170.40,227.00 L170.21,227.55 L170.01,228.09 L169.80,228.62 L169.59,229.12 L169.37,229.61 L169.15,230.08 L168.92,230.52 L168.70,230.93 L168.47,231.30 L168.24,231.66 L168.00,232.02 L167.74,232.37 L167.49,232.69 L167.24,232.99 L166.98,233.29 L166.71,233.57 L166.43,233.85 L166.13,234.12 L165.81,234.40 L165.47,234.68 L165.10,234.97 L164.72,235.25 L164.34,235.51 L163.93,235.77 L163.46,236.04 L162.93,236.33 L162.37,236.63 L161.76,236.94 L161.13,237.25 L160.47,237.56 L159.78,237.87 L159.08,238.18 L158.37,238.49 L157.68,238.80 L157.04,239.08 L156.41,239.35 L155.79,239.60 L155.16,239.85 L154.52,240.09 L153.87,240.33 L153.20,240.57 L152.52,240.80 L151.81,241.04 L151.07,241.28 L150.31,241.53 L149.53,241.78 L148.75,242.02 L147.95,242.27 L147.12,242.51 L146.26,242.75 L145.37,243.00 L144.47,243.25 L143.56,243.49 L142.64,243.74 L141.71,243.99 L140.77,244.23 L139.84,244.48 L138.92,244.72 L138.03,244.95 L137.13,245.18 L136.22,245.41 L135.30,245.64 L134.37,245.86 L133.43,246.09 L132.50,246.32 L131.56,246.55 L130.64,246.78 L129.72,247.01 L128.81,247.24 L127.94,247.46 L127.12,247.68 L126.33,247.88 L125.54,248.08 L124.76,248.28 L123.98,248.49 L123.20,248.69 L122.41,248.91 L121.61,249.13 L120.81,249.36 L120.00,249.61 L119.18,249.86 L118.36,250.14 L117.57,250.41 L116.80,250.69 L116.04,250.97 L115.28,251.26 L114.54,251.55 L113.80,251.86 L113.07,252.16 L112.34,252.48 L111.61,252.80 L110.89,253.13 L110.17,253.47 L109.43,253.82 L108.66,254.19 L107.90,254.59 L107.14,254.98 L106.40,255.38 L105.67,255.78 L104.95,256.18 L104.25,256.58 L103.56,256.98 L102.88,257.36 L102.22,257.74 L101.58,258.11 L100.95,258.47 L100.33,258.82 L99.70,259.17 L99.06,259.53 L98.41,259.89 L97.75,260.27 L97.08,260.65 L96.41,261.04 L95.72,261.44 L95.03,261.85 L94.33,262.28 L93.63,262.73 L92.97,263.16 L92.39,263.55 L91.83,263.92 L91.23,264.31 L90.61,264.73 L89.95,265.18 L89.27,265.66 L88.57,266.18 L87.84,266.74 L87.10,267.36 L86.35,268.03 L85.61,268.76 L84.90,269.52 L84.27,270.25 L83.68,270.97 L83.10,271.71 L82.54,272.48 L81.99,273.28 L81.47,274.10 L80.95,274.95 L80.46,275.82 L80.00,276.72 L79.55,277.64 L79.13,278.59 L78.75,279.55 L78.40,280.51 L78.07,281.47 L77.75,282.47 L77.46,283.49 L77.18,284.53 L76.93,285.60 L76.71,286.69 L76.51,287.81 L76.34,288.94 L76.22,290.09 L76.13,291.26 L76.10,292.43 L76.11,293.53 L76.16,294.61 L76.24,295.70 L76.36,296.79 L76.53,297.88 L76.73,298.97 L76.97,300.06 L77.26,301.15 L77.59,302.24 L77.97,303.32 L78.39,304.39 L78.86,305.45 L79.36,306.48 L79.90,307.50 L80.48,308.51 L81.09,309.51 L81.75,310.51 L82.44,311.49 L83.17,312.46 L83.94,313.42 L84.75,314.35 L85.60,315.26 L86.49,316.15 L87.43,317.00 L88.39,317.79 L89.37,318.54 L90.37,319.23 L91.38,319.89 L92.41,320.50 L93.46,321.07 L94.51,321.60 L95.58,322.10 L96.65,322.56 L97.73,323.00 L98.81,323.40 L99.93,323.79 L101.10,324.16 L102.31,324.49 L103.50,324.79 L104.70,325.05 L105.90,325.28 L107.09,325.49 L108.29,325.68 L109.48,325.84 L110.67,325.99 L111.85,326.12 L113.04,326.25 L114.25,326.37 L115.51,326.47 L116.79,326.56 L118.06,326.63 L119.33,326.69 L120.60,326.73 L121.88,326.75 L123.17,326.77 L124.48,326.78 L125.81,326.79 L127.17,326.79 L128.55,326.80 L129.99,326.80 L131.49,326.80 L133.07,326.80 L134.69,326.79 L136.36,326.78 L138.07,326.76 L139.80,326.74 L141.55,326.72 L143.31,326.68 L145.07,326.65 L146.83,326.60 L148.57,326.55 L150.29,326.49 L152.03,326.43 L153.80,326.35 L155.59,326.27 L157.40,326.17 L159.20,326.08 L160.98,325.97 L162.73,325.87 L164.43,325.77 L166.07,325.66 L167.65,325.56 L169.13,325.47 L170.52,325.38 L171.84,325.30 L173.10,325.21 L174.27,325.12 L175.38,325.04 L176.43,324.95 L177.41,324.87 L178.34,324.79 L179.23,324.72 L180.08,324.65 L180.90,324.59 L181.69,324.53 L182.46,324.49 L183.25,324.45 L184.03,324.41 L184.82,324.38 L185.60,324.36 L186.35,324.33 L187.09,324.32 L187.78,324.30 L188.44,324.29 L189.04,324.28 L189.60,324.27 L190.10,324.26 L190.26,324.25 L192.72,324.27 L194.46,324.33 L196.01,324.44 L197.42,324.57 L198.73,324.75 L199.96,324.96 L201.13,325.20 L202.24,325.48 L203.29,325.78 L204.29,326.12 L205.25,326.49 L206.16,326.88 L207.03,327.31 L207.86,327.76 L208.66,328.24 L209.41,328.74 L210.14,329.28 L210.83,329.84 L211.49,330.43 L212.12,331.04 L212.73,331.69 L213.30,332.37 L213.85,333.08 L214.37,333.82 L214.86,334.60 L215.32,335.41 L215.76,336.27 L216.17,337.16 L216.55,338.09 L216.90,339.07 L217.22,340.10 L217.51,341.19 L217.77,342.32 L218.00,343.53 L218.19,344.80 L218.35,346.16 L218.47,347.64 L218.55,349.27 L218.59,351.21 L218.59,353.99 L218.55,355.93 L218.47,357.56 L218.35,359.04 L218.19,360.40 L218.00,361.67 L217.77,362.88 L217.51,364.01 L217.22,365.10 L216.90,366.13 L216.55,367.11 L216.17,368.04 L215.76,368.93 L215.32,369.79 L214.86,370.60 L214.37,371.38 L213.85,372.12 L213.30,372.83 L212.73,373.51 L212.12,374.16 L211.49,374.77 L210.83,375.36 L210.14,375.92 L209.41,376.46 L208.66,376.96 L207.86,377.44 L207.03,377.89 L206.16,378.32 L205.25,378.71 L204.29,379.08 L203.29,379.42 L202.24,379.72 L201.13,380.00 L199.96,380.24 L198.73,380.45 L197.42,380.63 L196.01,380.76 L194.46,380.87 L192.72,380.93 L190.26,380.95 L187.94,380.95 L185.59,380.95 L183.23,380.95 L180.87,380.95 L178.51,380.95 L176.16,380.95 L173.80,380.95 L171.44,380.95 L169.09,380.95 L166.73,380.95 L164.37,380.95 L162.01,380.95 L159.66,380.95 L157.30,380.95 L154.94,380.95 L152.59,380.95 L150.23,380.95 L147.87,380.95 L145.51,380.95 L143.16,380.95 L140.80,380.95 L138.44,380.95 L136.09,380.95 L133.73,380.95 L131.37,380.95 L129.01,380.95 L126.66,380.95 L124.30,380.95 L121.94,380.95 L119.59,380.95 L117.23,380.95 L114.87,380.95 L112.51,380.95 L110.16,380.95 L107.80,380.95 L105.44,380.95 L103.09,380.95 L100.73,380.95 L98.37,380.95 L96.01,380.95 L93.66,380.95 L91.30,380.95 L88.94,380.95 L86.59,380.95 L84.23,380.95 L81.87,380.95 L79.51,380.95 L77.16,380.95 L74.80,380.95 L74.80,397.35 L77.16,397.35 L79.51,397.35 L81.87,397.35 L84.23,397.35 L86.59,397.35 L88.94,397.35 L91.30,397.35 L93.66,397.35 L96.01,397.35 L98.37,397.35 L100.73,397.35 L103.09,397.35 L105.44,397.35 L107.80,397.35 L110.16,397.35 L112.51,397.35 L114.87,397.35 L117.23,397.35 L119.59,397.35 L121.94,397.35 L124.30,397.35 L126.66,397.35 L129.01,397.35 L131.37,397.35 L133.73,397.35 L136.09,397.35 L138.44,397.35 L140.80,397.35 L143.16,397.35 L145.51,397.35 L147.87,397.35 L150.23,397.35 L152.59,397.35 L154.94,397.35 L157.30,397.35 L159.66,397.35 L162.01,397.35 L164.37,397.35 L166.73,397.35 L169.09,397.35 L171.44,397.35 L173.80,397.35 L176.16,397.35 L178.51,397.35 L180.87,397.35 L183.23,397.35 L185.59,397.35 L187.94,397.35 L190.34,397.35 L193.06,397.32 L195.29,397.24 L197.34,397.11 L199.29,396.92 L201.18,396.67 L203.00,396.36 L204.78,395.99 L206.51,395.56 L208.20,395.06 L209.84,394.51 L211.45,393.89 L213.01,393.22 L214.53,392.48 L216.01,391.68 L217.44,390.81 L218.82,389.89 L220.16,388.91 L221.45,387.86 L222.68,386.76 L223.86,385.61 L224.99,384.40 L226.06,383.14 L227.07,381.82 L228.02,380.46 L228.91,379.05 L229.74,377.59 L230.51,376.09 L231.22,374.55 L231.87,372.97 L232.45,371.34 L232.97,369.67 L233.43,367.96 L233.83,366.21 L234.17,364.41 L234.45,362.55 L234.67,360.63 L234.83,358.63 L234.94,356.51 L234.99,354.15 L234.99,351.05 L234.94,348.69 L234.83,346.57 L234.67,344.57 L234.45,342.65 L234.17,340.79 L233.83,338.99 L233.43,337.24 L232.97,335.53 L232.45,333.86 L231.87,332.23 L231.22,330.65 L230.51,329.11 L229.74,327.61 L228.91,326.15 L228.02,324.74 L227.07,323.38 L226.06,322.06 L224.99,320.80 L223.86,319.59 L222.68,318.44 L221.45,317.34 L220.16,316.29 L218.82,315.31 L217.44,314.39 L216.01,313.52 L214.53,312.72 L213.01,311.98 L211.45,311.31 L209.84,310.69 L208.20,310.14 L206.51,309.64 L204.78,309.21 L203.00,308.84 L201.18,308.53 L199.29,308.28 L197.34,308.09 L195.29,307.96 L193.06,307.88 L190.34,307.85 L189.72,307.86 L189.28,307.87 L188.75,307.88 L188.13,307.89 L187.45,307.91 L186.71,307.92 L185.93,307.94 L185.10,307.96 L184.24,307.99 L183.35,308.02 L182.45,308.07 L181.54,308.11 L180.62,308.17 L179.72,308.23 L178.81,308.30 L177.91,308.37 L176.99,308.45 L176.05,308.53 L175.08,308.61 L174.08,308.69 L173.02,308.77 L171.92,308.85 L170.74,308.93 L169.48,309.02 L168.10,309.10 L166.61,309.20 L165.05,309.30 L163.42,309.40 L161.74,309.50 L160.02,309.60 L158.28,309.70 L156.53,309.80 L154.78,309.89 L153.05,309.97 L151.36,310.04 L149.71,310.11 L148.07,310.16 L146.39,310.21 L144.69,310.25 L142.98,310.29 L141.27,310.32 L139.57,310.34 L137.89,310.37 L136.23,310.38 L134.60,310.39 L133.02,310.40 L131.49,310.40 L130.01,310.40 L128.58,310.40 L127.20,310.39 L125.87,310.39 L124.59,310.39 L123.36,310.37 L122.18,310.36 L121.04,310.33 L119.93,310.30 L118.86,310.25 L117.81,310.19 L116.78,310.12 L115.75,310.03 L114.68,309.93 L113.63,309.82 L112.60,309.70 L111.61,309.58 L110.66,309.45 L109.74,309.31 L108.87,309.16 L108.03,308.99 L107.23,308.82 L106.48,308.63 L105.77,308.43 L105.07,308.21 L104.35,307.96 L103.64,307.70 L102.96,307.43 L102.30,307.14 L101.68,306.85 L101.09,306.56 L100.53,306.25 L100.00,305.93 L99.50,305.61 L99.03,305.28 L98.58,304.94 L98.17,304.60 L97.77,304.24 L97.36,303.84 L96.94,303.39 L96.52,302.90 L96.11,302.39 L95.70,301.84 L95.31,301.29 L94.94,300.72 L94.59,300.16 L94.27,299.60 L93.99,299.06 L93.74,298.55 L93.53,298.08 L93.35,297.61 L93.18,297.13 L93.03,296.66 L92.91,296.17 L92.80,295.68 L92.70,295.18 L92.63,294.67 L92.57,294.15 L92.53,293.63 L92.51,293.09 L92.50,292.57 L92.51,292.09 L92.55,291.58 L92.61,291.02 L92.70,290.42 L92.81,289.79 L92.94,289.15 L93.10,288.50 L93.27,287.85 L93.45,287.21 L93.65,286.58 L93.85,285.99 L94.05,285.45 L94.25,284.96 L94.45,284.51 L94.66,284.06 L94.89,283.62 L95.13,283.19 L95.38,282.77 L95.65,282.36 L95.93,281.96 L96.21,281.57 L96.51,281.18 L96.82,280.81 L97.10,280.48 L97.34,280.22 L97.57,280.00 L97.83,279.76 L98.14,279.51 L98.48,279.24 L98.87,278.96 L99.30,278.65 L99.77,278.33 L100.29,277.99 L100.84,277.62 L101.44,277.23 L102.03,276.84 L102.54,276.50 L103.04,276.18 L103.56,275.86 L104.09,275.54 L104.65,275.21 L105.23,274.88 L105.83,274.54 L106.44,274.20 L107.07,273.84 L107.72,273.48 L108.38,273.11 L109.05,272.73 L109.72,272.35 L110.39,271.96 L111.05,271.58 L111.70,271.21 L112.35,270.84 L112.99,270.48 L113.62,270.13 L114.23,269.79 L114.84,269.46 L115.43,269.15 L116.00,268.86 L116.57,268.58 L117.16,268.30 L117.75,268.02 L118.34,267.76 L118.92,267.50 L119.50,267.25 L120.08,267.01 L120.65,266.77 L121.24,266.54 L121.82,266.32 L122.42,266.09 L123.03,265.88 L123.64,265.66 L124.24,265.46 L124.84,265.27 L125.46,265.09 L126.09,264.90 L126.75,264.72 L127.43,264.54 L128.13,264.35 L128.87,264.16 L129.63,263.97 L130.42,263.76 L131.23,263.55 L132.06,263.34 L132.88,263.12 L133.72,262.91 L134.58,262.70 L135.47,262.48 L136.39,262.25 L137.32,262.03 L138.27,261.80 L139.22,261.56 L140.19,261.32 L141.15,261.08 L142.12,260.83 L143.08,260.59 L144.01,260.34 L144.94,260.10 L145.89,259.85 L146.85,259.60 L147.81,259.35 L148.78,259.10 L149.75,258.84 L150.72,258.58 L151.68,258.32 L152.64,258.06 L153.58,257.80 L154.50,257.54 L155.38,257.29 L156.23,257.05 L157.07,256.81 L157.90,256.57 L158.73,256.34 L159.57,256.10 L160.40,255.85 L161.24,255.60 L162.08,255.35 L162.93,255.08 L163.79,254.81 L164.64,254.53 L165.46,254.26 L166.28,253.98 L167.13,253.69 L168.00,253.38 L168.89,253.05 L169.80,252.69 L170.71,252.31 L171.63,251.89 L172.56,251.43 L173.49,250.92 L174.42,250.36 L175.32,249.77 L176.13,249.17 L176.90,248.57 L177.64,247.94 L178.36,247.28 L179.04,246.59 L179.70,245.88 L180.33,245.14 L180.93,244.37 L181.49,243.59 L182.02,242.79 L182.51,241.97 L182.99,241.13 L183.45,240.23 L183.87,239.32 L184.26,238.40 L184.61,237.48 L184.93,236.57 L185.23,235.65 L185.50,234.74 L185.74,233.83 L185.97,232.92 L186.17,232.03 L186.37,231.14 L186.55,230.22 L186.73,229.26 L186.88,228.28 L187.01,227.33 L187.12,226.40 L187.20,225.48 L187.28,224.59 L187.34,223.72 L187.40,222.87 L187.45,222.04 L187.50,221.24 L187.54,220.46 L187.59,219.67 L187.63,218.84 L187.67,218.00 L187.71,217.17 L187.73,216.35 L187.74,215.55 L187.75,214.75 L187.76,213.97 L187.76,213.19 L187.76,212.42 L187.76,211.65 L187.76,210.89 L187.76,210.10 L187.77,209.25 L187.76,208.32 L187.76,207.36 L187.75,206.37 L187.74,205.38 L187.73,204.41 L187.71,203.48 L187.70,202.59 L187.69,201.78 L187.68,201.06 L187.67,200.46 L187.66,200.00 L187.64,197.72 L187.62,195.43 L187.59,193.15 L187.57,190.87 L187.55,188.59 L187.55,186.30 L187.55,184.02 L187.55,181.74 L187.55,179.46 L187.55,177.17 L187.55,174.89 L187.55,172.61 L187.55,170.32 L187.55,168.04 L187.55,165.76 L187.55,163.48 L187.55,161.19 L187.55,158.91 L187.55,156.63 L187.55,154.34 L187.55,152.06 L187.55,149.78 L187.55,147.50 L187.55,145.21 L187.55,142.93 L187.55,140.65 L187.55,138.37 L187.55,136.08 L187.55,133.80 Z" fill="none" stroke="#111" stroke-width="2.3" stroke-linejoin="miter"/>

<rect x="246" y="213.3" width="27.8" height="245" fill="#fff" stroke="#111" stroke-width="2.3"/>
<rect x="251.8" y="208.4" width="16.4" height="33.9" fill="#e3232a"/>
<rect x="252.6" y="246.5" width="15.5" height="31" fill="#fff" stroke="#111" stroke-width="2.3"/>
<g fill="#111"><ellipse cx="260.2" cy="279.30" rx="8.1" ry="3.75"/><ellipse cx="260.2" cy="285.59" rx="8.1" ry="3.75"/><ellipse cx="260.2" cy="291.87" rx="8.1" ry="3.75"/><ellipse cx="260.2" cy="298.16" rx="8.1" ry="3.75"/><ellipse cx="260.2" cy="304.44" rx="8.1" ry="3.75"/><ellipse cx="260.2" cy="310.73" rx="8.1" ry="3.75"/><ellipse cx="260.2" cy="317.01" rx="8.1" ry="3.75"/><ellipse cx="260.2" cy="323.30" rx="8.1" ry="3.75"/><ellipse cx="260.2" cy="329.58" rx="8.1" ry="3.75"/><ellipse cx="260.2" cy="335.87" rx="8.1" ry="3.75"/><ellipse cx="260.2" cy="342.15" rx="8.1" ry="3.75"/><ellipse cx="260.2" cy="348.44" rx="8.1" ry="3.75"/><ellipse cx="260.2" cy="354.72" rx="8.1" ry="3.75"/><ellipse cx="260.2" cy="361.00" rx="8.1" ry="3.75"/><ellipse cx="260.2" cy="367.29" rx="8.1" ry="3.75"/><ellipse cx="260.2" cy="373.58" rx="8.1" ry="3.75"/><ellipse cx="260.2" cy="379.86" rx="8.1" ry="3.75"/><ellipse cx="260.2" cy="386.14" rx="8.1" ry="3.75"/><ellipse cx="260.2" cy="392.43" rx="8.1" ry="3.75"/><ellipse cx="260.2" cy="398.72" rx="8.1" ry="3.75"/><ellipse cx="260.2" cy="405.00" rx="8.1" ry="3.75"/><ellipse cx="260.2" cy="411.29" rx="8.1" ry="3.75"/><ellipse cx="260.2" cy="417.57" rx="8.1" ry="3.75"/></g>
<g fill="#fff"><circle cx="255.3" cy="279.30" r="1.95"/><circle cx="265.1" cy="279.30" r="1.95"/><rect x="255.3" y="277.90" width="9.8" height="2.8"/><circle cx="255.3" cy="285.59" r="1.95"/><circle cx="265.1" cy="285.59" r="1.95"/><rect x="255.3" y="284.19" width="9.8" height="2.8"/><circle cx="255.3" cy="291.87" r="1.95"/><circle cx="265.1" cy="291.87" r="1.95"/><rect x="255.3" y="290.47" width="9.8" height="2.8"/><circle cx="255.3" cy="298.16" r="1.95"/><circle cx="265.1" cy="298.16" r="1.95"/><rect x="255.3" y="296.76" width="9.8" height="2.8"/><circle cx="255.3" cy="304.44" r="1.95"/><circle cx="265.1" cy="304.44" r="1.95"/><rect x="255.3" y="303.04" width="9.8" height="2.8"/><circle cx="255.3" cy="310.73" r="1.95"/><circle cx="265.1" cy="310.73" r="1.95"/><rect x="255.3" y="309.33" width="9.8" height="2.8"/><circle cx="255.3" cy="317.01" r="1.95"/><circle cx="265.1" cy="317.01" r="1.95"/><rect x="255.3" y="315.61" width="9.8" height="2.8"/><circle cx="255.3" cy="323.30" r="1.95"/><circle cx="265.1" cy="323.30" r="1.95"/><rect x="255.3" y="321.90" width="9.8" height="2.8"/><circle cx="255.3" cy="329.58" r="1.95"/><circle cx="265.1" cy="329.58" r="1.95"/><rect x="255.3" y="328.18" width="9.8" height="2.8"/><circle cx="255.3" cy="335.87" r="1.95"/><circle cx="265.1" cy="335.87" r="1.95"/><rect x="255.3" y="334.47" width="9.8" height="2.8"/><circle cx="255.3" cy="342.15" r="1.95"/><circle cx="265.1" cy="342.15" r="1.95"/><rect x="255.3" y="340.75" width="9.8" height="2.8"/><circle cx="255.3" cy="348.44" r="1.95"/><circle cx="265.1" cy="348.44" r="1.95"/><rect x="255.3" y="347.04" width="9.8" height="2.8"/><circle cx="255.3" cy="354.72" r="1.95"/><circle cx="265.1" cy="354.72" r="1.95"/><rect x="255.3" y="353.32" width="9.8" height="2.8"/><circle cx="255.3" cy="361.00" r="1.95"/><circle cx="265.1" cy="361.00" r="1.95"/><rect x="255.3" y="359.61" width="9.8" height="2.8"/><circle cx="255.3" cy="367.29" r="1.95"/><circle cx="265.1" cy="367.29" r="1.95"/><rect x="255.3" y="365.89" width="9.8" height="2.8"/><circle cx="255.3" cy="373.58" r="1.95"/><circle cx="265.1" cy="373.58" r="1.95"/><rect x="255.3" y="372.18" width="9.8" height="2.8"/><circle cx="255.3" cy="379.86" r="1.95"/><circle cx="265.1" cy="379.86" r="1.95"/><rect x="255.3" y="378.46" width="9.8" height="2.8"/><circle cx="255.3" cy="386.14" r="1.95"/><circle cx="265.1" cy="386.14" r="1.95"/><rect x="255.3" y="384.75" width="9.8" height="2.8"/><circle cx="255.3" cy="392.43" r="1.95"/><circle cx="265.1" cy="392.43" r="1.95"/><rect x="255.3" y="391.03" width="9.8" height="2.8"/><circle cx="255.3" cy="398.72" r="1.95"/><circle cx="265.1" cy="398.72" r="1.95"/><rect x="255.3" y="397.32" width="9.8" height="2.8"/><circle cx="255.3" cy="405.00" r="1.95"/><circle cx="265.1" cy="405.00" r="1.95"/><rect x="255.3" y="403.60" width="9.8" height="2.8"/><circle cx="255.3" cy="411.29" r="1.95"/><circle cx="265.1" cy="411.29" r="1.95"/><rect x="255.3" y="409.89" width="9.8" height="2.8"/><circle cx="255.3" cy="417.57" r="1.95"/><circle cx="265.1" cy="417.57" r="1.95"/><rect x="255.3" y="416.17" width="9.8" height="2.8"/></g>
<path d="M251,458 L251,423.5 L253.5,420.8 L267,420.8 L269.6,423.5 L269.6,458" fill="#fff" stroke="#111" stroke-width="2.3"/>
<path d="M246,407.6 L68,407.6 Q63.2,407.6 63.2,412.4 L63.2,445.7 Q63.2,450.5 68,450.5 L293.4,450.5 Q298.2,450.5 298.2,445.7 L298.2,412.4 Q298.2,407.6 293.4,407.6 L274,407.6" fill="none" stroke="#444" stroke-width="2.9"/>
<rect x="234.6" y="450.6" width="50.3" height="11.8" rx="1.5" fill="#fff" stroke="#111" stroke-width="2.3"/>
<g stroke="#444" stroke-width="2.2"><line x1="240.8" y1="451.5" x2="240.8" y2="461.5"/><line x1="247.4" y1="451.5" x2="247.4" y2="461.5"/><line x1="254.0" y1="451.5" x2="254.0" y2="461.5"/><line x1="260.6" y1="451.5" x2="260.6" y2="461.5"/><line x1="267.2" y1="451.5" x2="267.2" y2="461.5"/><line x1="273.8" y1="451.5" x2="273.8" y2="461.5"/><line x1="280.4" y1="451.5" x2="280.4" y2="461.5"/></g>
<g stroke="#1c1c1c" stroke-width="1.9" fill="none">
<path d="M182,152 L267.3,115.9 L372.8,115.9"/>
<path d="M298.2,169.5 L372.8,169.5"/>
<path d="M260,233 L328.4,217.1 L372.8,217.1"/>
<path d="M301.5,266.5 L372.8,266.5"/>
<path d="M265,331.3 L372.8,331.3"/>
<path d="M299,420 L372,420"/>
<path d="M272,463 L313,474 L371,474"/>
</g>
<g font-family="Liberation Sans, sans-serif" font-size="24" fill="#111"><text x="385.30" y="120.80" textLength="47.00" lengthAdjust="spacingAndGlyphs">knot</text><text x="387.00" y="174.70" textLength="69.00" lengthAdjust="spacingAndGlyphs">škrtací</text><text x="469.80" y="174.70" textLength="81.60" lengthAdjust="spacingAndGlyphs">kolečko</text><text x="387.00" y="224.60" textLength="69.00" lengthAdjust="spacingAndGlyphs">škrtací</text><text x="469.60" y="224.60" textLength="90.00" lengthAdjust="spacingAndGlyphs">kamínek</text><text x="386.30" y="273.60" textLength="75.10" lengthAdjust="spacingAndGlyphs">vatová</text><text x="474.00" y="273.60" textLength="57.40" lengthAdjust="spacingAndGlyphs">výplň</text><text x="387.30" y="335.80" textLength="78.30" lengthAdjust="spacingAndGlyphs">pružina</text><text x="387.00" y="424.20" textLength="81.10" lengthAdjust="spacingAndGlyphs">plstěná</text><text x="482.00" y="424.20" textLength="87.80" lengthAdjust="spacingAndGlyphs">ucpávka</text><text x="386.50" y="479.70" textLength="61.10" lengthAdjust="spacingAndGlyphs">šroub</text></g></svg>
</body></html>
